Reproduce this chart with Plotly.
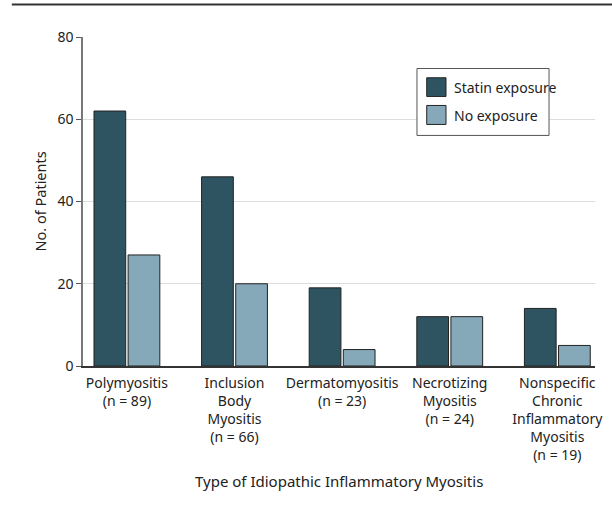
import plotly.graph_objects as go

categories = ["Polymyositis<br>(n = 89)", "Inclusion<br>Body<br>Myositis<br>(n = 66)",
              "Dermatomyositis<br>(n = 23)", "Necrotizing<br>Myositis<br>(n = 24)",
              "Nonspecific<br>Chronic<br>Inflammatory<br>Myositis<br>(n = 19)"]
statin = [62, 46, 19, 12, 14]
no_exposure = [27, 20, 4, 12, 5]
y_ticks = [0, 20, 40, 60, 80]
series_names = ["Statin exposure", "No exposure"]
series_colors = ["#2e5461", "#85a9b8"]

FONT = "Noto Sans"
pos = list(range(len(categories)))

fig = go.Figure()
for name, vals, col in zip(series_names, [statin, no_exposure], series_colors):
    fig.add_trace(go.Bar(x=pos, y=vals, name=name, showlegend=False,
                         marker=dict(color=col, line=dict(color="#222222", width=1))))

# manual legend (paper coordinates)
shapes = [
    dict(type="line", xref="paper", yref="paper", x0=-0.139, x1=1.04,
         y0=1.0987, y1=1.0987, line=dict(color="#333333", width=2)),
    dict(type="rect", xref="paper", yref="paper", x0=0.6523, x1=0.9102, y0=0.7008, y1=0.9043,
         line=dict(color="#555555", width=1), fillcolor="white", layer="above"),
]
annotations = []
sw_y = [(0.8193, 0.8761), (0.7342, 0.7919)]
tx_y = [0.8466, 0.7616]
for name, col, (y0, y1), ty in zip(series_names, series_colors, sw_y, tx_y):
    shapes.append(dict(type="rect", xref="paper", yref="paper", x0=0.6713, x1=0.709,
                       y0=y0, y1=y1, fillcolor=col, line=dict(color="#222222", width=1),
                       layer="above"))
    annotations.append(dict(text=name, xref="paper", yref="paper", x=0.7201, y=ty,
                            xanchor="left", yanchor="middle", showarrow=False,
                            font=dict(size=14)))

annotations += [
    dict(text="Type of Idiopathic Inflammatory Myositis", xref="paper", yref="paper",
         x=0.5, y=-0.350, xanchor="center", yanchor="middle", showarrow=False,
         font=dict(size=15)),
    dict(text="No. of Patients", xref="paper", yref="paper", textangle=-90,
         x=-0.084, y=0.5, xanchor="center", yanchor="middle", showarrow=False,
         font=dict(size=14.5)),
]

fig.update_layout(
    width=612, height=512,
    margin=dict(l=83, r=17, t=36.5, b=146.3, autoexpand=False),
    paper_bgcolor="white", plot_bgcolor="white",
    barmode="group", bargap=0.366, bargroupgap=0.07,
    font=dict(family=FONT, size=14, color="#222222"),
    showlegend=False,
    xaxis=dict(tickmode="array", tickvals=pos, ticktext=categories,
               range=[-0.408, 4.35], showgrid=False, zeroline=False,
               showline=True, linecolor="#333333", linewidth=1.5, ticks="",
               ticklabelstandoff=3, tickfont=dict(size=14)),
    yaxis=dict(tickmode="array", tickvals=y_ticks, range=[0, 80],
               showgrid=True, gridcolor="#dddddd", zeroline=False,
               showline=True, linecolor="#777777", linewidth=1.5,
               ticks="outside", ticklen=5, tickcolor="#555555",
               tickfont=dict(size=14)),
    annotations=annotations,
    shapes=shapes,
)

fig.write_html("out.html", config={"displayModeBar": False},
               post_script="document.body.style.margin='0px';")
